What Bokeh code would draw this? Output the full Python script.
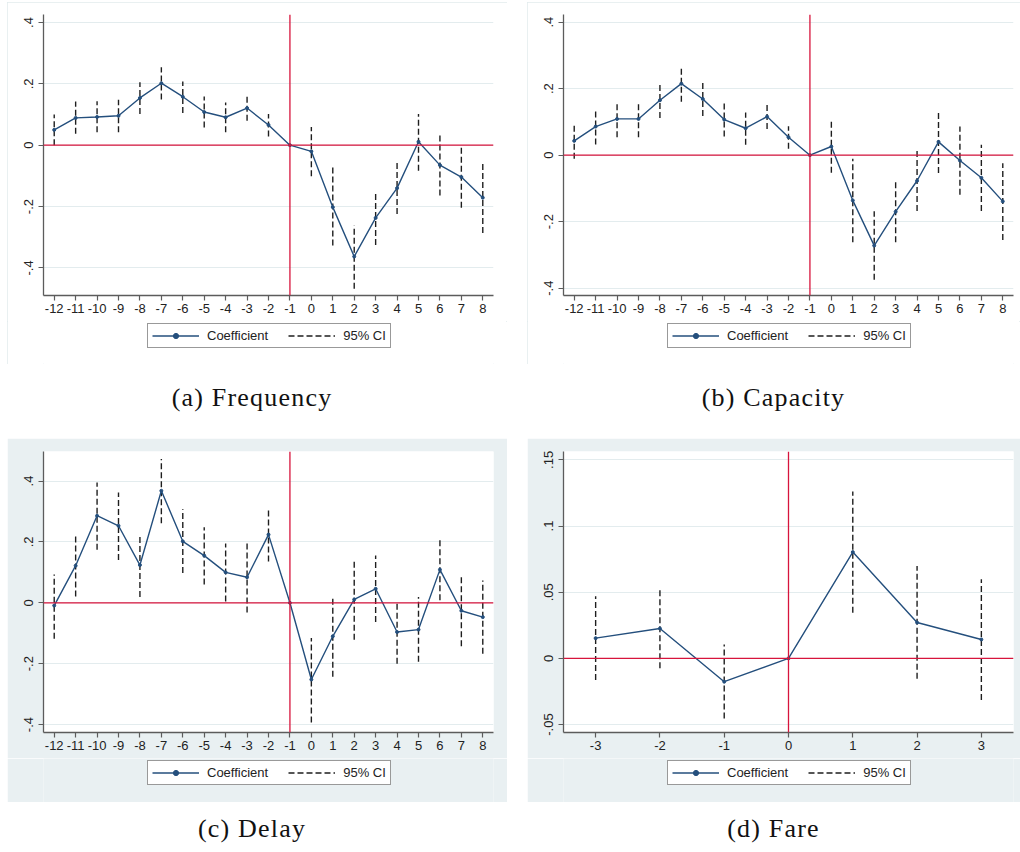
from bokeh.plotting import figure
from bokeh.models import (Range1d, FixedTicker, Span, Legend, LegendItem,
                          ColumnDataSource, Div, Spacer)
from bokeh.layouts import row, column
from bokeh.embed import file_html
from bokeh.resources import INLINE

# ---------------- data ----------------
periods_long = [-12, -11, -10, -9, -8, -7, -6, -5, -4, -3, -2, -1, 0, 1, 2, 3, 4, 5, 6, 7, 8]
periods_fare = [-3, -2, -1, 0, 1, 2, 3]
xlabels_long = ["-12", "-11", "-10", "-9", "-8", "-7", "-6", "-5", "-4", "-3", "-2", "-1",
                "0", "1", "2", "3", "4", "5", "6", "7", "8"]
xlabels_fare = ["-3", "-2", "-1", "0", "1", "2", "3"]

freq_coef = [0.050, 0.089, 0.092, 0.096, 0.154, 0.202, 0.158, 0.108, 0.091, 0.121, 0.066, 0.0,
             -0.020, -0.202, -0.363, -0.237, -0.140, 0.011, -0.065, -0.104, -0.171]
freq_hi = [0.100, 0.142, 0.143, 0.148, 0.205, 0.254, 0.208, 0.159, 0.139, 0.160, 0.102, None,
           0.059, -0.068, -0.262, -0.157, -0.053, 0.102, 0.034, -0.002, -0.057]
freq_lo = [0.000, 0.037, 0.042, 0.042, 0.102, 0.149, 0.105, 0.058, 0.042, 0.080, 0.028, None,
           -0.101, -0.327, -0.468, -0.325, -0.224, -0.083, -0.164, -0.204, -0.286]

cap_coef = [0.043, 0.086, 0.109, 0.109, 0.165, 0.215, 0.169, 0.107, 0.081, 0.116, 0.054, 0.0,
            0.026, -0.136, -0.272, -0.170, -0.077, 0.040, -0.016, -0.068, -0.139]
cap_hi = [0.094, 0.137, 0.162, 0.162, 0.217, 0.265, 0.221, 0.156, 0.128, 0.152, 0.087, None,
          0.102, -0.011, -0.169, -0.081, 0.014, 0.136, 0.086, 0.031, -0.024]
cap_lo = [-0.011, 0.032, 0.054, 0.054, 0.112, 0.161, 0.118, 0.056, 0.031, 0.079, 0.019, None,
          -0.053, -0.262, -0.375, -0.262, -0.168, -0.054, -0.119, -0.168, -0.255]

delay_coef = [-0.009, 0.122, 0.286, 0.253, 0.124, 0.368, 0.202, 0.155, 0.100, 0.084, 0.224, 0.0,
              -0.252, -0.110, 0.011, 0.046, -0.096, -0.088, 0.109, -0.026, -0.047]
delay_hi = [0.093, 0.224, 0.395, 0.362, 0.226, 0.472, 0.307, 0.248, 0.195, 0.195, 0.310, None,
            -0.116, 0.021, 0.144, 0.155, 0.004, 0.019, 0.215, 0.090, 0.073]
delay_lo = [-0.118, 0.021, 0.174, 0.141, 0.019, 0.261, 0.098, 0.060, 0.004, -0.032, 0.136, None,
            -0.393, -0.243, -0.121, -0.063, -0.200, -0.194, 0.008, -0.143, -0.167]

fare_coef = [0.0153, 0.0226, -0.0176, 0.0, 0.0803, 0.0271, 0.0143]
fare_hi = [0.0470, 0.0530, 0.0105, None, 0.1260, 0.0698, 0.0597]
fare_lo = [-0.0163, -0.0075, -0.0454, None, 0.0344, -0.0153, -0.0314]

yticks_long = [-0.4, -0.2, 0.0, 0.2, 0.4]
ylabels_long = ["-.4", "-.2", "0", ".2", ".4"]
yticks_fare = [-0.05, 0.0, 0.05, 0.1, 0.15]
ylabels_fare = ["-.05", "0", ".05", ".1", ".15"]

captions = ["(a) Frequency", "(b) Capacity", "(c) Delay", "(d) Fare"]
legend_labels = ["Coefficient", "95% CI"]

NAVY = "#244f7d"
RED = "#d7143c"
AX = "#5c5c5c"
CI_COLOR = "#1e1e1e"
CI_DASH = "6 3"


def sources(x, coef, lo, hi):
    cx = [xi for xi, l in zip(x, lo) if l is not None]
    clo = [l for l in lo if l is not None]
    chi = [h for h in hi if h is not None]
    return (ColumnDataSource(dict(x=x, y=coef)),
            ColumnDataSource(dict(x=cx, lo=clo, hi=chi)))


def add_glyphs(p, src, ci_src):
    cr = p.segment(x0="x", y0="lo", x1="x", y1="hi", source=ci_src,
                   line_color=CI_COLOR, line_width=1.4, line_dash=CI_DASH)
    lr = p.line("x", "y", source=src, line_color=NAVY, line_width=1.4)
    sr = p.scatter("x", "y", source=src, size=3, fill_color=NAVY, line_color=NAVY)
    return lr, sr, cr


def make_plot(src, ci_src, x, xlabels, xr, yr, yticks, ylabels, ref_x,
              width, height, left, right, top, bottom, bg):
    p = figure(width=width, height=height, x_range=Range1d(*xr), y_range=Range1d(*yr),
               output_backend="svg", toolbar_location=None,
               min_border_left=left, min_border_right=right,
               min_border_top=top, min_border_bottom=bottom,
               border_fill_color=bg, background_fill_color="white",
               outline_line_color=None)
    p.xgrid.visible = False
    p.ygrid.ticker = FixedTicker(ticks=yticks)
    p.ygrid.grid_line_color = "#e3ecee"
    p.ygrid.grid_line_width = 1

    p.xaxis.ticker = FixedTicker(ticks=x)
    p.xaxis.major_label_overrides = {t: l for t, l in zip(x, xlabels)}
    p.yaxis.ticker = FixedTicker(ticks=yticks)
    p.yaxis.major_label_overrides = {t: l for t, l in zip(yticks, ylabels)}
    p.yaxis.major_label_orientation = "vertical"
    for ax in (p.xaxis[0], p.yaxis[0]):
        ax.axis_line_color = AX
        ax.axis_line_width = 1.3
        ax.major_tick_line_color = AX
        ax.major_tick_line_width = 1.2
        ax.major_tick_out = 5
        ax.major_tick_in = 0
        ax.minor_tick_out = 0
        ax.minor_tick_in = 0
        ax.major_label_text_font = "Liberation Sans"
        ax.major_label_text_font_size = "13px"
        ax.major_label_text_color = "#222222"
    p.xaxis.major_label_standoff = 3
    p.yaxis.major_label_standoff = 5

    p.add_layout(Span(location=0, dimension="width", line_color=RED, line_width=1.3))
    p.add_layout(Span(location=ref_x, dimension="height", line_color=RED, line_width=1.3))
    add_glyphs(p, src, ci_src)
    return p


def make_strip(src, ci_src, xr, width, height, bg, lx, ly):
    # legend strip below the plot; its y range lies far outside the data so no mark shows
    s = figure(width=width, height=height, x_range=Range1d(*xr), y_range=Range1d(10, 11),
               output_backend="svg", toolbar_location=None, min_border=0,
               x_axis_type=None, y_axis_type=None,
               background_fill_color=bg, border_fill_color=bg, outline_line_color=None)
    s.xgrid.visible = False
    s.ygrid.visible = False
    lr, sr, cr = add_glyphs(s, src, ci_src)
    legend = Legend(items=[LegendItem(label=legend_labels[0], renderers=[lr, sr]),
                           LegendItem(label=legend_labels[1], renderers=[cr])],
                    orientation="horizontal", location=(lx, ly),
                    border_line_color="#333333", border_line_width=1,
                    background_fill_color="white", background_fill_alpha=1,
                    label_text_font="Liberation Sans", label_text_font_size="13px",
                    label_text_color="#222222",
                    glyph_width=47, glyph_height=13, label_height=13,
                    label_standoff=8, spacing=20, padding=4, margin=0)
    s.add_layout(legend)
    return s


WHITE = "white"
BLUE_BG = "#e9f0f2"
XR_LONG = (-12.5, 8.5)
XR_FARE = (-3.5, 3.5)

src_a, ci_a = sources(periods_long, freq_coef, freq_lo, freq_hi)
src_b, ci_b = sources(periods_long, cap_coef, cap_lo, cap_hi)
src_c, ci_c = sources(periods_long, delay_coef, delay_lo, delay_hi)
src_d, ci_d = sources(periods_fare, fare_coef, fare_lo, fare_hi)

fa = make_plot(src_a, ci_a, periods_long, xlabels_long, XR_LONG, (-0.49, 0.426),
               yticks_long, ylabels_long, -1, 500, 319, 36, 14, 12, 26, WHITE)
fb = make_plot(src_b, ci_b, periods_long, xlabels_long, XR_LONG, (-0.422, 0.423),
               yticks_long, ylabels_long, -1, 493, 319, 36, 7, 12, 26, WHITE)
fc = make_plot(src_c, ci_c, periods_long, xlabels_long, XR_LONG, (-0.426, 0.497),
               yticks_long, ylabels_long, -1, 500, 320, 36, 14, 13, 26, BLUE_BG)
fd = make_plot(src_d, ci_d, periods_fare, xlabels_fare, XR_FARE, (-0.056, 0.1563),
               yticks_fare, ylabels_fare, 0, 493, 320, 36, 7, 13, 26, BLUE_BG)

sa = make_strip(src_a, ci_a, XR_LONG, 500, 43, WHITE, 104, 16)
sb = make_strip(src_b, ci_b, XR_LONG, 493, 43, WHITE, 104, 16)
sc = make_strip(src_c, ci_c, XR_LONG, 500, 44, BLUE_BG, 104, 17)
sd = make_strip(src_d, ci_d, XR_FARE, 493, 44, BLUE_BG, 104, 17)

outline = {"outline": "1px solid #e2ebed", "outline-offset": "-1px"}
pa = column(fa, sa, spacing=0, styles=outline)
pb = column(fb, sb, spacing=0, styles=outline)
pc = column(fc, sc, spacing=0)
pd = column(fd, sd, spacing=0)


def cap_div(text, width, height, pad):
    html = ('<div style="width:%dpx; text-align:center; padding-top:%dpx;'
            ' font-family:\'Liberation Serif\'; font-size:26px; letter-spacing:1.2px;'
            ' color:#111; white-space:nowrap;">%s</div>' % (width, pad, text))
    return Div(text=html, width=width, height=height, margin=0)


da = cap_div(captions[0], 490, 74, 15)
db = cap_div(captions[1], 493, 74, 15)
dc = cap_div(captions[2], 490, 48, 8)
dd = cap_div(captions[3], 493, 48, 8)

layout = column(
    Spacer(height=2),
    row(Spacer(width=7), pa, Spacer(width=20), pb, spacing=0),
    row(Spacer(width=7), da, Spacer(width=30), db, spacing=0),
    row(Spacer(width=7), pc, Spacer(width=20), pd, spacing=0),
    row(Spacer(width=7), dc, Spacer(width=30), dd, spacing=0),
    spacing=0)

open("out.html", "w").write(file_html(layout, INLINE))
